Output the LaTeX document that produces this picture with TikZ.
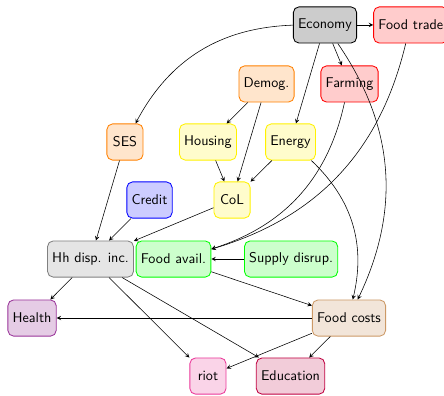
\documentclass[tikz,border=0pt]{standalone}
\usepackage{tikz}
\usetikzlibrary{positioning}
\definecolor{riotline}{rgb}{0.92,0.22,0.6}
\definecolor{riotfill}{rgb}{0.98,0.83,0.91}

\begin{document}
\begin{tikzpicture}[>=stealth,line join=bevel,
  every node/.style={font=\sffamily,rounded corners=4pt,semithick,minimum width=0.9cm,minimum height=0.9cm},
  ]
\useasboundingbox (0bp,0bp) rectangle (313bp,278.5bp);
%%
\node (Economy) at (229.1bp,260.9bp) [draw=black,fill=gray!40] {Economy};
  \node (Foodtrade) at (289.6bp,260.9bp) [draw=red,fill=red!20] {Food trade};
  \node (Demog) at (187.9bp,219.3bp) [draw=orange,fill=orange!20] {Demog.};
  \node (Farming) at (246.4bp,219.3bp) [draw=red,fill=red!20] {Farming};
  \node (SES) at (88.1bp,178.4bp) [draw=orange,fill=orange!20] {SES};
  \node (Housing) at (146.6bp,178.4bp) [draw=yellow,fill=yellow!20] {Housing};
  \node (Energy) at (204.8bp,178.4bp) [draw=yellow,fill=yellow!20] {Energy};
  \node (Credit) at (105.4bp,137.5bp) [draw=blue,fill=blue!20] {Credit};
  \node (CoL) at (163.6bp,137.5bp) [draw=yellow,fill=yellow!20] {CoL};
  \node (Hhdispinc) at (63.8bp,95.9bp) [draw=gray,fill=gray!20] {Hh disp. inc.};
  \node (Foodavail) at (122.3bp,95.9bp) [draw=green,fill=green!20] {Food avail.};
  \node (Supplydisrup) at (205.2bp,95.9bp) [draw=green,fill=green!20] {Supply disrup.};
  \node (Health) at (22.6bp,54.3bp) [draw=violet!80,fill=violet!20] {Health};
  \node (Foodcosts) at (246.0bp,54.3bp) [draw=brown!80,fill=brown!20] {Food costs};
  \node (riot) at (146.6bp,13.4bp) [draw=riotline,fill=riotfill] {riot};
  \node (Education) at (204.8bp,13.4bp) [draw=purple,fill=purple!20] {Education};
  \draw [black,->] (Economy) -- (Foodtrade);
  \draw [black,->] (Economy) to[bend right] (SES);
  \draw [black,->] (Economy) -- (Farming);
  \draw [black,->] (Economy) -- (Energy);
  \draw [black,->] (Economy) to[bend left] (Foodcosts);
  \draw [black,->] (Foodtrade) to[bend left] (Foodavail);
  \draw [black,->] (Farming) to[bend left] (Foodavail);
  \draw [black,->] (Demog) -- (Housing);
  \draw [black,->] (Demog) -- (CoL);
  \draw [black,->] (Housing) -- (CoL);
  \draw [black,->] (Energy) -- (CoL);
  \draw [black,->] (Energy) to[bend left] (Foodcosts);
  \draw [black,->] (SES) -- (Hhdispinc);
  \draw [black,->] (Credit) -- (Hhdispinc);
  \draw [black,->] (CoL) -- (Hhdispinc);
  \draw [black,->] (Supplydisrup) -- (Foodavail);
  \draw [black,->] (Foodavail) -- (Foodcosts);
  \draw [black,->] (Hhdispinc) -- (Health);
  \draw [black,->] (Hhdispinc) -- (riot);
  \draw [black,->] (Hhdispinc) -- (Education);
  \draw [black,->] (Foodcosts) -- (Health);
  \draw [black,->] (Foodcosts) -- (riot);
  \draw [black,->] (Foodcosts) -- (Education);
%
\end{tikzpicture}
\end{document}
